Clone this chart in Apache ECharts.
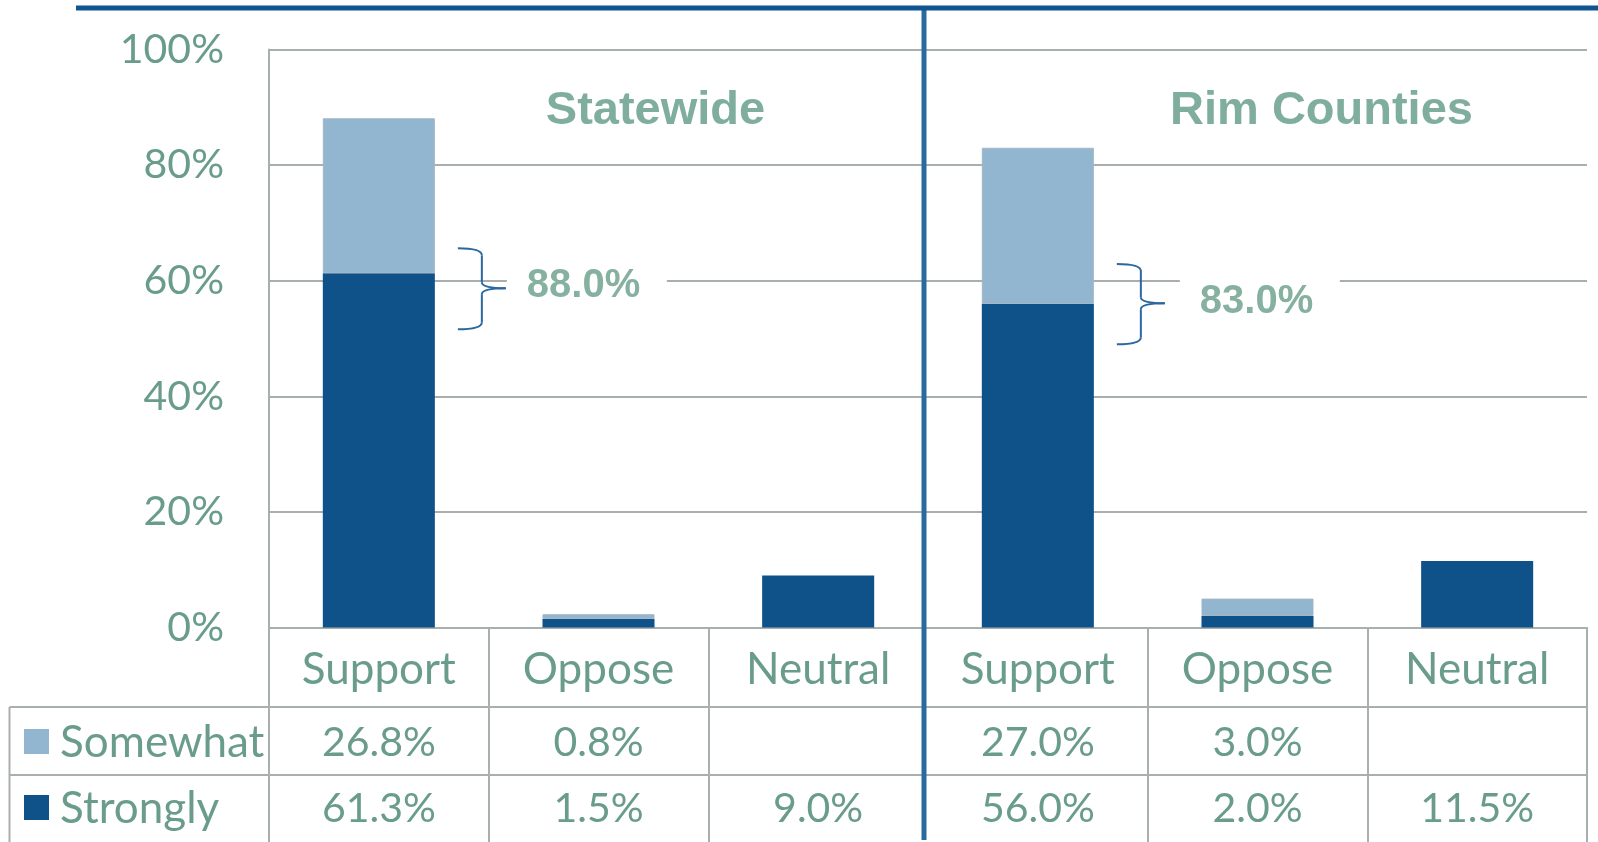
<!DOCTYPE html>
<html><head><meta charset="utf-8">
<script src="https://cdn.jsdelivr.net/npm/echarts@6/dist/echarts.min.js"></script>
<style>html,body{margin:0;padding:0;background:#fff}#c{width:1598px;height:842px}</style>
</head><body><div id="c"></div>
<script>
const categories = ['Support', 'Oppose', 'Neutral', 'Support', 'Oppose', 'Neutral'];
const groups = ['Statewide', 'Rim Counties'];
const seriesNames = ['Somewhat', 'Strongly'];
const somewhat = [26.8, 0.8, null, 27.0, 3.0, null];
const strongly = [61.3, 1.5, 9.0, 56.0, 2.0, 11.5];
const totals = ['88.0%', '83.0%'];
const yTicks = [0, 20, 40, 60, 80, 100];

const GRAY = '#a9afac';
const TEXT = '#6a9c8c';
const LIGHT = '#93b6d0';
const DARK = '#0f5289';
const FONT = 'Lato, "Open Sans", sans-serif';
const GROUP_SIZE = 3;

const chart = echarts.init(document.getElementById('c'), null, {renderer: 'canvas'});
chart.setOption({
  animation: false,
  grid: {left: 269, right: 11, top: 49.5, bottom: 214.5, containLabel: false},
  xAxis: {
    type: 'category', data: categories, boundaryGap: true,
    axisLine: {show: true, lineStyle: {color: GRAY, width: 2}},
    axisTick: {show: true, interval: function (index) { return index !== GROUP_SIZE; }, length: 215, lineStyle: {color: GRAY, width: 2}},
    axisLabel: {show: false},
    splitLine: {show: false}
  },
  yAxis: {
    type: 'value', min: yTicks[0], max: yTicks[yTicks.length - 1], interval: 20,
    axisLine: {show: true, lineStyle: {color: GRAY, width: 2}},
    axisTick: {show: false},
    splitLine: {show: true, lineStyle: {color: GRAY, width: 2}},
    axisLabel: {formatter: '{value}%', fontSize: 41, color: TEXT, fontFamily: FONT, margin: 45}
  },
  series: [
    {name: seriesNames[1], type: 'bar', stack: 'a', barWidth: '51%', data: strongly,
     itemStyle: {color: DARK}},
    {name: seriesNames[0], type: 'bar', stack: 'a', barWidth: '51%', data: somewhat,
     itemStyle: {color: LIGHT, borderColor: '#a3b5c5', borderWidth: 1}}
  ]
});

function px(i, v) { return chart.convertToPixel({gridIndex: 0}, [i, v]); }
const x0 = px(0, 0)[0], x1 = px(1, 0)[0];
const cw = x1 - x0;
const leftEdge = x0 - cw / 2;
const rightEdge = px(categories.length - 1, 0)[0] + cw / 2;
const yZero = px(0, 0)[1];
const headerBottom = yZero + 79.5;
const row1Bottom = headerBottom + 68;
const tableLeft = 9.5;
const g = [];

// top rule
g.push({type: 'line', shape: {x1: 76, y1: 8, x2: 1598, y2: 8}, style: {stroke: '#0f5591', lineWidth: 5}, z: 100});
// table horizontal lines
[headerBottom, row1Bottom].forEach(y => g.push({type: 'line', shape: {x1: tableLeft, y1: y, x2: rightEdge, y2: y}, style: {stroke: GRAY, lineWidth: 2}, z: 10}));
g.push({type: 'line', shape: {x1: tableLeft, y1: headerBottom, x2: tableLeft, y2: 842}, style: {stroke: GRAY, lineWidth: 2}, z: 10});
g.push({type: 'line', shape: {x1: leftEdge, y1: headerBottom, x2: leftEdge, y2: 842}, style: {stroke: GRAY, lineWidth: 2}, z: 10});

// category labels
categories.forEach((c, i) => {
  g.push({type: 'text', x: px(i, 0)[0], y: yZero + 42, style: {text: c, fill: TEXT, font: '44px ' + FONT, align: 'center', verticalAlign: 'middle'}, z: 20});
});
// legend rows
const rows = [{name: seriesNames[0], color: LIGHT, data: somewhat, y: (headerBottom + row1Bottom) / 2 + 2},
              {name: seriesNames[1], color: DARK, data: strongly, y: row1Bottom + 34}];
rows.forEach(r => {
  g.push({type: 'rect', shape: {x: 24, y: r.y - 14, width: 25, height: 25}, style: {fill: r.color}, z: 20});
  g.push({type: 'text', x: 60, y: r.y, style: {text: r.name, fill: TEXT, font: '44px ' + FONT, align: 'left', verticalAlign: 'middle'}, z: 20});
  r.data.forEach((v, i) => {
    if (v == null) return;
    g.push({type: 'text', x: px(i, 0)[0], y: r.y, style: {text: v.toFixed(1) + '%', fill: TEXT, font: '41px ' + FONT, align: 'center', verticalAlign: 'middle'}, z: 20});
  });
});

// group divider
const divX = (px(GROUP_SIZE - 1, 0)[0] + px(GROUP_SIZE, 0)[0]) / 2 - 4;
g.push({type: 'line', shape: {x1: divX, y1: 8, x2: divX, y2: 840}, style: {stroke: '#2a6b9f', lineWidth: 5}, z: 90});

// group titles and braces
const braceCfg = [
  {top: 65.6, bottom: 51.6, mid: 58.7, labelGap: 21, labelY: 59.1, titleShift: 57},
  {top: 62.9, bottom: 49.0, mid: 56.1, labelGap: 35, labelY: 56.3, titleShift: 64}
];
const BRACE = {stroke: '#2b67a0', lineWidth: 2, fill: null};
groups.forEach((name, k) => {
  const first = k * GROUP_SIZE;
  const b = braceCfg[k];
  const cx = (px(first, 0)[0] + px(first + GROUP_SIZE - 1, 0)[0]) / 2 + b.titleShift;
  g.push({type: 'text', x: cx, y: px(0, 90)[1] + 4, style: {text: name, fill: '#80ae9e', font: 'bold 47px "Liberation Sans", Arial, sans-serif', align: 'center', verticalAlign: 'middle'}, z: 30});
  const barRight = px(first, 0)[0] + cw * 0.255;
  const xs = barRight + 23, xv = xs + 24, xt = xv + 24;
  const yt = px(0, b.top)[1], yb = px(0, b.bottom)[1], ym = px(0, b.mid)[1];
  const segs = [
    {type: 'bezierCurve', shape: {x1: xs, y1: yt, cpx1: xv, cpy1: yt, x2: xv, y2: yt + 7}},
    {type: 'line', shape: {x1: xv, y1: yt + 7, x2: xv, y2: ym - 6}},
    {type: 'bezierCurve', shape: {x1: xv, y1: ym - 6, cpx1: xv, cpy1: ym, x2: xt, y2: ym}},
    {type: 'bezierCurve', shape: {x1: xt, y1: ym, cpx1: xv, cpy1: ym, x2: xv, y2: ym + 6}},
    {type: 'line', shape: {x1: xv, y1: ym + 6, x2: xv, y2: yb - 7}},
    {type: 'bezierCurve', shape: {x1: xv, y1: yb - 7, cpx1: xv, cpy1: yb, x2: xs, y2: yb}}
  ];
  segs.forEach(s => { s.style = BRACE; s.z = 30; g.push(s); });
  const lx = xt + b.labelGap;
  const ly = px(0, b.labelY)[1];
  g.push({type: 'rect', shape: {x: lx - 20, y: ly - 26, width: 160, height: 52}, style: {fill: '#fff'}, z: 25});
  g.push({type: 'text', x: lx, y: ly, style: {text: totals[k], fill: '#86b0a0', font: 'bold 40px "Liberation Sans", Arial, sans-serif', align: 'left', verticalAlign: 'middle'}, z: 30});
});

chart.setOption({graphic: {elements: g}});
</script></body></html>
